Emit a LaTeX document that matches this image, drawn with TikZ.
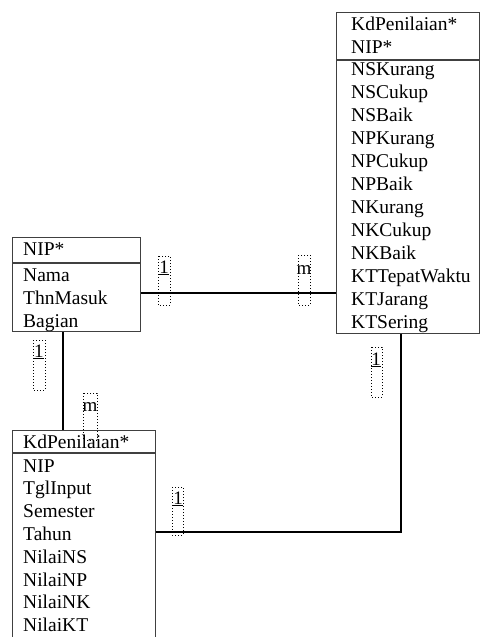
\documentclass[tikz,border=0pt]{standalone}
\usepackage{fontspec}
\setmainfont{Liberation Serif}
\begin{document}
\begin{tikzpicture}[x=1pt,y=-1pt,
  tbl/.style={draw=black!75,line width=1.4pt,rectangle,inner sep=0pt,anchor=north west},
  sep/.style={draw=black!75,line width=1.4pt},
  attr/.style={anchor=base west,inner sep=0pt,font=\fontsize{19.5}{23}\selectfont},
  conn/.style={draw=black,line width=1.2pt},
  card/.style={inner sep=0pt,font=\fontsize{19}{20}\selectfont},
  cardbox/.style={draw=black,dotted,line width=1pt},
]
\useasboundingbox (0,0) rectangle (481,637);
\clip (0,0) rectangle (481,637);
% tables
\node[tbl,minimum width=143pt,minimum height=321pt] (R) at (336,12) {};
\node[tbl,minimum width=128pt,minimum height=94pt] (L) at (12,237) {};
\node[tbl,minimum width=143pt,minimum height=230pt] (B) at (12,430) {};
\draw[sep] (R.west |- 0,60) -- (R.east |- 0,60);
\draw[sep] (L.west |- 0,263) -- (L.east |- 0,263);
\draw[sep] (B.west |- 0,453) -- (B.east |- 0,453);
% right table text
\node[attr] (r0) at (351,30) {KdPenilaian*};
\node[attr] (r00) at (351,53) {NIP*};
\foreach \t [count=\i from 0] in {NSKurang,NSCukup,NSBaik,NPKurang,NPCukup,NPBaik,NKurang,NKCukup,NKBaik,KTTepatWaktu,KTJarang,KTSering}
  \node[attr] (r\i x) at (351,75+23*\i) {\t};
% left table text
\node[attr] (l0) at (23,255) {NIP*};
\foreach \t [count=\i from 0] in {Nama,ThnMasuk,Bagian}
  \node[attr] (l\i x) at (23,281+23*\i) {\t};
% bottom table text
\node[attr] (b0) at (23,448) {KdPenilaian*};
\foreach \t [count=\i from 0] in {NIP,TglInput,Semester,Tahun,NilaiNS,NilaiNP,NilaiNK,NilaiKT}
  \node[attr] (b\i x) at (23,472+22.8*\i) {\t};
% connectors
\coordinate (c1) at (0,293);
\coordinate (c2) at (63,0);
\coordinate (c3) at (0,532);
\coordinate (c4) at (401,532);
\draw[conn] (L.east |- c1) -- (R.west |- c1);
\draw[conn] (L.south -| c2) -- (B.north -| c2);
\draw[conn] (B.east |- c3) -- (c4) -- (R.south -| c4);
% cardinality labels
\draw[cardbox] (158,256) rectangle (170,305);
\node[card] (k1) at (164,268) {\underline{1}};
\draw[cardbox] (298,255) rectangle (310,305);
\node[card] (k2) at (304,270) {m};
\draw[cardbox] (33,340) rectangle (45,390);
\node[card] (k3) at (39,352) {\underline{1}};
\draw[cardbox] (83,393) rectangle (97,440);
\node[card] (k4) at (90,407) {m};
\draw[cardbox] (371,347) rectangle (382,397);
\node[card] (k5) at (376,360) {\underline{1}};
\draw[cardbox] (172,487) rectangle (183,535);
\node[card] (k6) at (178,499) {\underline{1}};
\end{tikzpicture}
\end{document}
